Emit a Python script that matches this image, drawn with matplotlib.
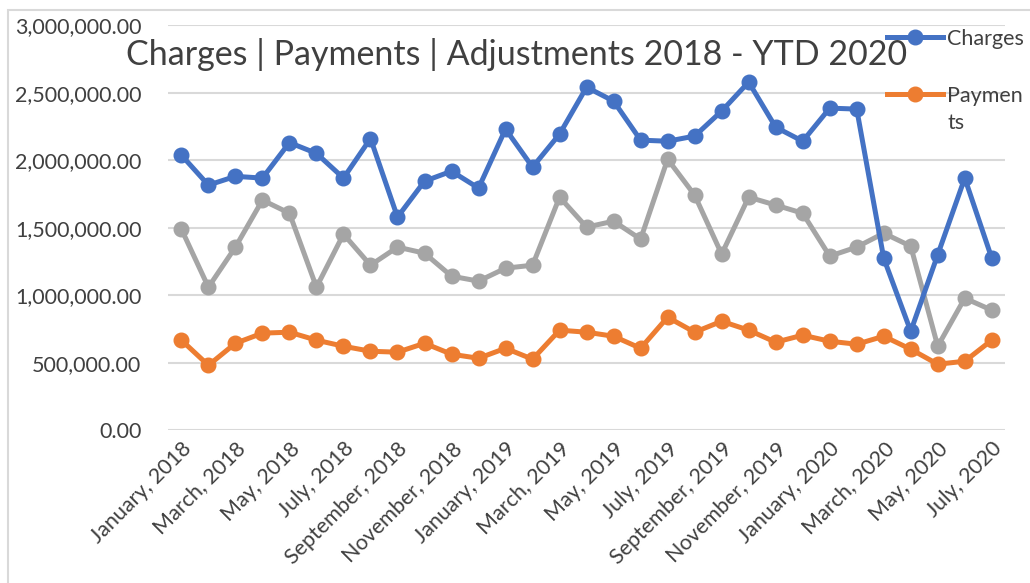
import numpy as np
import matplotlib.pyplot as plt
from matplotlib.patches import Rectangle
from matplotlib.ticker import FuncFormatter

plt.rcParams['font.family'] = ['Lato', 'DejaVu Sans']

months = ['January', 'February', 'March', 'April', 'May', 'June', 'July',
          'August', 'September', 'October', 'November', 'December']
labels = [f'{months[m]}, {y}' for y in (2018, 2019, 2020) for m in range(12)][:31]

charges = [2037000, 1815000, 1880000, 1867000, 2130000, 2050000, 1867000, 2160000,
           1578000, 1844000, 1918000, 1793000, 2230000, 1948000, 2193000, 2540000,
           2437000, 2148000, 2140000, 2178000, 2363000, 2578000, 2244000, 2140000,
           2385000, 2378000, 1274000, 733000, 1300000, 1867000, 1274000]
payments = [667000, 481000, 644000, 719000, 726000, 667000, 622000, 585000,
            578000, 644000, 563000, 533000, 607000, 526000, 741000, 726000,
            696000, 607000, 837000, 726000, 807000, 741000, 652000, 704000,
            659000, 637000, 696000, 600000, 489000, 511000, 667000]
adjustments = [1489000, 1059000, 1356000, 1704000, 1607000, 1059000, 1452000, 1222000,
               1356000, 1311000, 1141000, 1104000, 1200000, 1222000, 1726000, 1504000,
               1548000, 1415000, 2007000, 1741000, 1304000, 1726000, 1667000, 1607000,
               1289000, 1356000, 1459000, 1363000, 622000, 978000, 889000]

x = np.arange(len(labels))
txt = '#404040'

fig = plt.figure(figsize=(10.3, 5.83), dpi=100)
ax = fig.add_axes([0.163, 0.262, 0.813, 0.695])

lc, = ax.plot(x, charges, '-o', color='#4472C4', lw=3.6, ms=10.5, label='Charges', zorder=3)
lp, = ax.plot(x, payments, '-o', color='#ED7D31', lw=3.6, ms=10.5, label='Paymen', zorder=3)
ax.plot(x, adjustments, '-o', color='#A5A5A5', lw=3.6, ms=10.5, zorder=2)

ax.set_xlim(-0.5, 30.5)
ax.set_ylim(0, 3000000)
ax.set_yticks(np.arange(0, 3000001, 500000))
ax.yaxis.set_major_formatter(FuncFormatter(lambda v, p: f'{v:,.2f}'))
ax.grid(axis='y', color='#d9d9d9', lw=1.5)
ax.set_axisbelow(True)
for s in ax.spines.values():
    s.set_visible(False)
ax.tick_params(length=0, labelsize=15.5, colors=txt)
ax.tick_params(axis='y', pad=19)
ax.tick_params(axis='x', pad=6)
ax.set_xticks(x[::2])
ax.set_xticklabels(labels[::2], rotation=45, ha='right', rotation_mode='anchor')

fig.text(0.502, 0.906, 'Charges | Payments | Adjustments 2018 - YTD 2020',
         ha='center', va='center', fontsize=24.5, color=txt)

# legend entry "Payments" wraps in the original, second line drawn as a text below
leg = fig.legend(handles=[lc, lp], loc='upper left', bbox_to_anchor=(0.853, 0.965),
                 frameon=False, fontsize=15.5, handlelength=2.6, labelspacing=1.7,
                 handletextpad=0.2, borderaxespad=0)
for t in leg.get_texts():
    t.set_color(txt)
fig.canvas.draw()
bb = leg.get_texts()[1].get_window_extent().transformed(fig.transFigure.inverted())
fig.text(bb.x0, bb.y0 - 0.047, 'ts', fontsize=15.5, color=txt, ha='left', va='bottom')

fig.add_artist(Rectangle((0.008, -0.01), 1.0, 0.993, transform=fig.transFigure,
                         fill=False, ec='#d9d9d9', lw=1.5))

fig.savefig('out.png', dpi=100)
